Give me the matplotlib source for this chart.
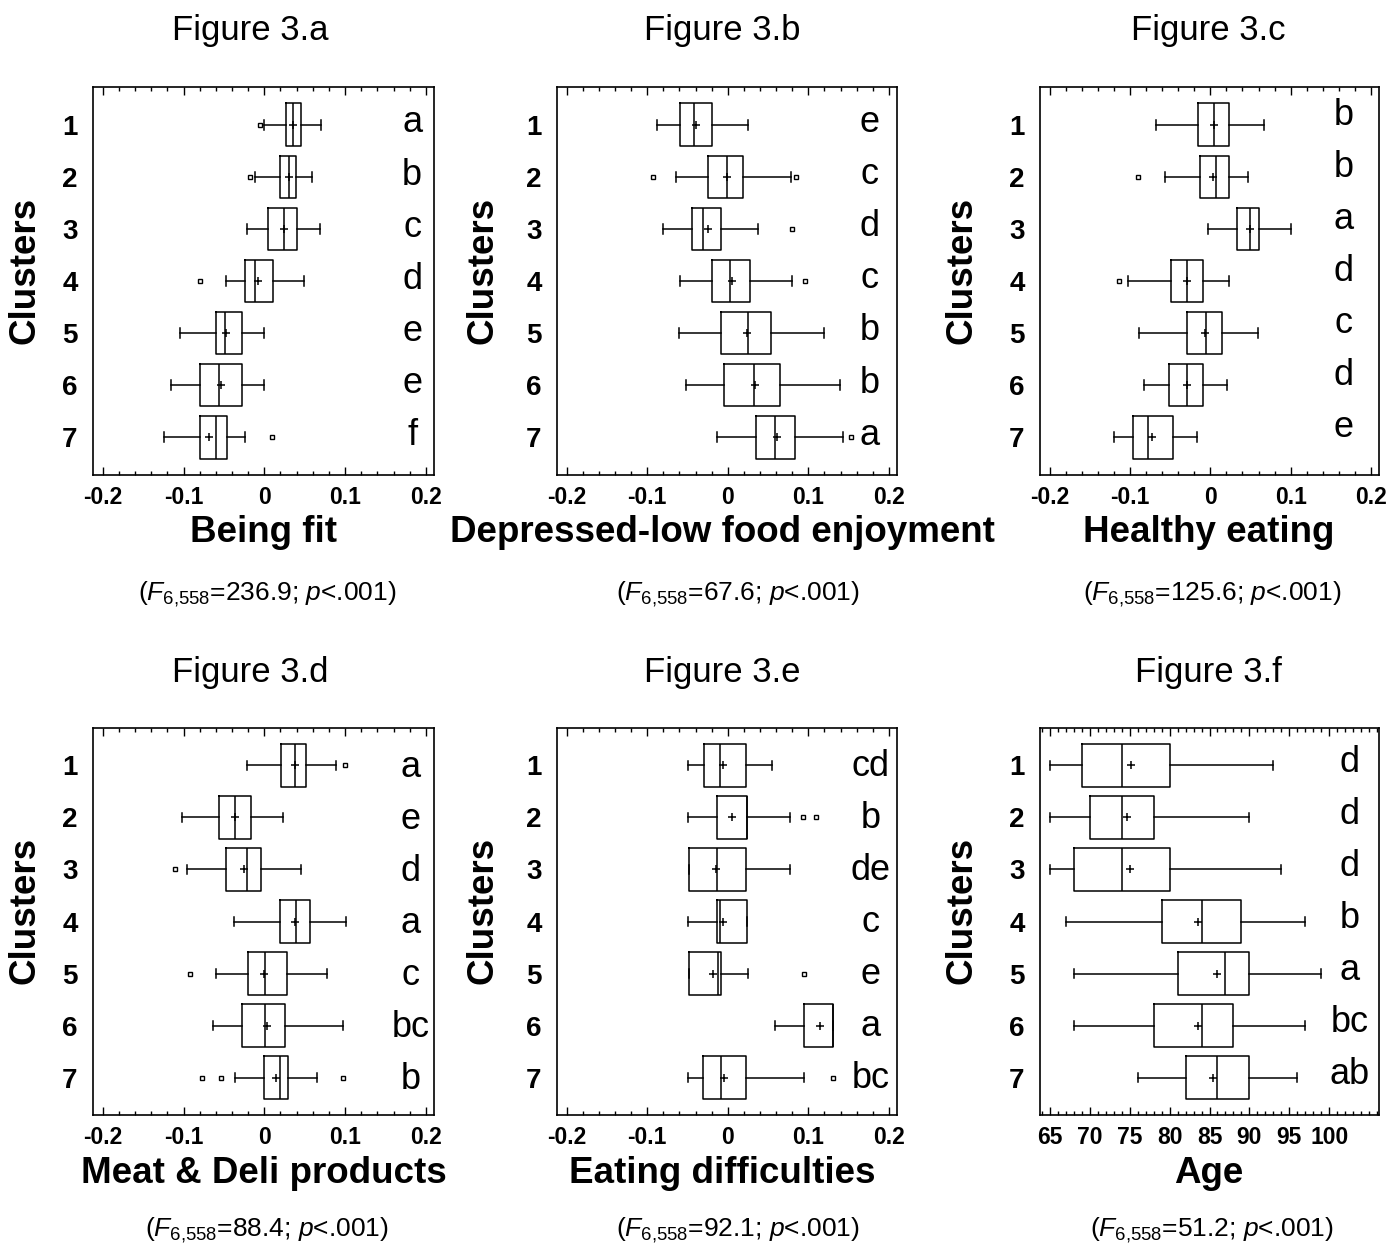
import matplotlib
matplotlib.use('Agg')
import matplotlib.pyplot as plt
from matplotlib.ticker import MultipleLocator

plt.rcParams['font.family'] = 'Liberation Sans'
plt.rcParams['mathtext.fontset'] = 'custom'
plt.rcParams['mathtext.rm'] = 'Liberation Sans'
plt.rcParams['mathtext.it'] = 'Liberation Sans:italic'

W, H = 1395, 1243
clusters = ['1', '2', '3', '4', '5', '6', '7']

# Figure 3.a  Being fit
a_lo = [0.000, -0.011, -0.022, -0.048, -0.104, -0.115, -0.124]
a_q1 = [0.027, 0.019, 0.005, -0.024, -0.060, -0.080, -0.080]
a_med = [0.036, 0.031, 0.024, -0.011, -0.049, -0.056, -0.060]
a_q3 = [0.045, 0.039, 0.041, 0.011, -0.028, -0.028, -0.046]
a_hi = [0.070, 0.059, 0.069, 0.049, 0.000, 0.000, -0.024]
a_mean = [0.036, 0.030, 0.024, -0.008, -0.047, -0.054, -0.068]
a_out = [[-0.005], [-0.018], [], [-0.080], [], [], [0.009]]
a_let = ['a', 'b', 'c', 'd', 'e', 'e', 'f']

# Figure 3.b  Depressed-low food enjoyment
b_lo = [-0.088, -0.064, -0.081, -0.059, -0.061, -0.052, -0.013]
b_q1 = [-0.059, -0.025, -0.045, -0.019, -0.008, -0.005, 0.035]
b_med = [-0.042, -0.001, -0.031, 0.003, 0.025, 0.033, 0.059]
b_q3 = [-0.019, 0.019, -0.009, 0.027, 0.053, 0.065, 0.083]
b_hi = [0.025, 0.079, 0.037, 0.080, 0.119, 0.139, 0.143]
b_mean = [-0.040, -0.001, -0.025, 0.005, 0.024, 0.034, 0.061]
b_out = [[], [-0.093, 0.085], [0.080], [0.096], [], [], [0.153]]
b_let = ['e', 'c', 'd', 'c', 'b', 'b', 'a']

# Figure 3.c  Healthy eating
c_lo = [-0.068, -0.056, -0.003, -0.103, -0.089, -0.083, -0.120]
c_q1 = [-0.015, -0.013, 0.033, -0.049, -0.029, -0.051, -0.096]
c_med = [0.005, 0.007, 0.049, -0.029, -0.005, -0.029, -0.077]
c_q3 = [0.023, 0.023, 0.061, -0.009, 0.015, -0.009, -0.046]
c_hi = [0.067, 0.047, 0.100, 0.023, 0.059, 0.021, -0.017]
c_mean = [0.005, 0.003, 0.049, -0.029, -0.006, -0.029, -0.072]
c_out = [[], [-0.090], [], [-0.114], [], [], []]
c_let = ['b', 'b', 'a', 'd', 'c', 'd', 'e']

# Figure 3.d  Meat & Deli products
d_lo = [-0.021, -0.102, -0.096, -0.038, -0.060, -0.064, -0.036]
d_q1 = [0.021, -0.056, -0.048, 0.019, -0.020, -0.028, -0.001]
d_med = [0.038, -0.036, -0.022, 0.039, 0.001, 0.001, 0.019]
d_q3 = [0.051, -0.016, -0.004, 0.057, 0.028, 0.026, 0.029]
d_hi = [0.089, 0.023, 0.045, 0.101, 0.078, 0.097, 0.065]
d_mean = [0.038, -0.036, -0.025, 0.038, 0.000, 0.003, 0.015]
d_out = [[0.100], [], [-0.111], [], [-0.092], [], [-0.077, -0.053, 0.098]]
d_let = ['a', 'e', 'd', 'a', 'c', 'bc', 'b']

# Figure 3.e  Eating difficulties
e_lo = [-0.049, -0.049, -0.048, -0.049, -0.048, 0.058, -0.049]
e_q1 = [-0.029, -0.013, -0.048, -0.013, -0.048, 0.095, -0.031]
e_med = [-0.010, 0.024, -0.013, -0.010, -0.012, 0.130, -0.009]
e_q3 = [0.023, 0.024, 0.023, 0.024, -0.009, 0.130, 0.023]
e_hi = [0.055, 0.077, 0.077, 0.024, 0.025, 0.130, 0.095]
e_mean = [-0.006, 0.005, -0.015, -0.006, -0.018, 0.114, -0.005]
e_out = [[], [0.093, 0.110], [], [], [0.094], [], [0.131]]
e_let = ['cd', 'b', 'de', 'c', 'e', 'a', 'bc']

# Figure 3.f  Age
f_lo = [65, 65, 65, 67, 68, 68, 76]
f_q1 = [69, 70, 68, 79, 81, 78, 82]
f_med = [74, 74, 74, 84, 87, 84, 86]
f_q3 = [80, 78, 80, 89, 90, 88, 90]
f_hi = [93, 90, 94, 97, 99, 97, 96]
f_mean = [75.2, 74.7, 75.0, 83.5, 85.9, 83.5, 85.5]
f_out = [[], [], [], [], [], [], []]
f_let = ['d', 'd', 'd', 'b', 'a', 'bc', 'ab']

fac_ticks = [-0.2, -0.1, 0, 0.1, 0.2]
fac_labels = ['-0.2', '-0.1', '0', '0.1', '0.2']
age_ticks = [65, 70, 75, 80, 85, 90, 95, 100]
age_labels = ['65', '70', '75', '80', '85', '90', '95', '100']


def px_rect(x0, y0, x1, y1):
    return [x0 / W, 1 - y1 / H, (x1 - x0) / W, (y1 - y0) / H]


def draw_panel(ax, lo, q1, med, q3, hi, mean, out, letters, let_x, let_dy,
               ticks, ticklabels, xlim, minor):
    stats = []
    for i in range(len(clusters)):
        stats.append(dict(whislo=lo[i], q1=q1[i], med=med[i], q3=q3[i],
                          whishi=hi[i], mean=mean[i], fliers=out[i]))
    lw = 1.1
    ax.bxp(stats, positions=range(1, 8), widths=0.81, capwidths=0.19,
           orientation='horizontal', showmeans=True,
           boxprops=dict(color='k', linewidth=lw),
           whiskerprops=dict(color='k', linewidth=lw),
           capprops=dict(color='k', linewidth=lw),
           medianprops=dict(color='k', linewidth=lw),
           meanprops=dict(marker='+', markeredgecolor='k', markersize=6,
                          markeredgewidth=1.1),
           flierprops=dict(marker='s', markerfacecolor='none',
                           markeredgecolor='k', markersize=3.5,
                           markeredgewidth=1.0))
    for i, lab in enumerate(letters):
        ax.text(let_x, i + 1 + let_dy, lab, ha='center', va='baseline',
                fontsize=26)
    ax.set_ylim(7.72, 0.28)
    ax.set_yticks(range(1, 8))
    ax.set_yticklabels(clusters, fontsize=20, fontweight='bold')
    ax.tick_params(axis='y', length=0, pad=11)
    ax.set_xlim(*xlim)
    ax.set_xticks(ticks)
    ax.set_xticklabels(ticklabels, fontsize=16.5, fontweight='bold')
    ax.xaxis.set_minor_locator(MultipleLocator(minor))
    ax.tick_params(axis='x', which='both', direction='in', top=True,
                   width=1.0, pad=8)
    ax.tick_params(axis='x', which='major', length=6)
    ax.tick_params(axis='x', which='minor', length=3)
    for sp in ax.spines.values():
        sp.set_linewidth(1.2)


fig = plt.figure(figsize=(W / 100, H / 100), dpi=100)

cols = [(93, 434), (557, 897), (1040, 1379)]
rows = [(87, 475), (728, 1115)]
fac_lim = (-0.212, 0.21)

panels = [
    (a_lo, a_q1, a_med, a_q3, a_hi, a_mean, a_out, a_let, 0.183, 0.15,
     fac_ticks, fac_labels, fac_lim, 0.02),
    (b_lo, b_q1, b_med, b_q3, b_hi, b_mean, b_out, b_let, 0.176, 0.14,
     fac_ticks, fac_labels, fac_lim, 0.02),
    (c_lo, c_q1, c_med, c_q3, c_hi, c_mean, c_out, c_let, 0.166, 0.0,
     fac_ticks, fac_labels, fac_lim, 0.02),
    (d_lo, d_q1, d_med, d_q3, d_hi, d_mean, d_out, d_let, 0.181, 0.22,
     fac_ticks, fac_labels, fac_lim, 0.02),
    (e_lo, e_q1, e_med, e_q3, e_hi, e_mean, e_out, e_let, 0.177, 0.2,
     fac_ticks, fac_labels, fac_lim, 0.02),
    (f_lo, f_q1, f_med, f_q3, f_hi, f_mean, f_out, f_let, 102.6, 0.12,
     age_ticks, age_labels, (63.75, 106.25), 1),
]

titles = ['Figure 3.a', 'Figure 3.b', 'Figure 3.c',
          'Figure 3.d', 'Figure 3.e', 'Figure 3.f']
xlabels = ['Being fit', 'Depressed-low food enjoyment', 'Healthy eating',
           'Meat & Deli products', 'Eating difficulties', 'Age']
fstats = [r'($F_{6{,}558}$=236.9; $p$<.001)', r'($F_{6{,}558}$=67.6; $p$<.001)',
          r'($F_{6{,}558}$=125.6; $p$<.001)', r'($F_{6{,}558}$=88.4; $p$<.001)',
          r'($F_{6{,}558}$=92.1; $p$<.001)', r'($F_{6{,}558}$=51.2; $p$<.001)']

title_x = [250, 722, 1208]
xlab_x = [264, 722, 1209]
fst_x = [267, 738, 1212]
ylab_x = [25, 483, 962]
title_y = [40, 682]
xlab_y = [542, 1183]
fst_y = [600, 1236]
ylab_y = [270, 910]

for k, p in enumerate(panels):
    r, c = divmod(k, 3)
    ax = fig.add_axes(px_rect(cols[c][0], rows[r][0], cols[c][1], rows[r][1]))
    draw_panel(ax, *p)
    fig.text(title_x[c] / W, 1 - title_y[r] / H, titles[k], ha='center',
             va='baseline', fontsize=25)
    fig.text(xlab_x[c] / W, 1 - xlab_y[r] / H, xlabels[k], ha='center',
             va='baseline', fontsize=26.5, fontweight='bold')
    fig.text(fst_x[c] / W, 1 - fst_y[r] / H, fstats[k], ha='center',
             va='baseline', fontsize=19)
    fig.text(ylab_x[c] / W, 1 - ylab_y[r] / H, 'Clusters', ha='center',
             va='center', rotation=90, fontsize=26.5, fontweight='bold')

fig.savefig('out.png', dpi=100)
